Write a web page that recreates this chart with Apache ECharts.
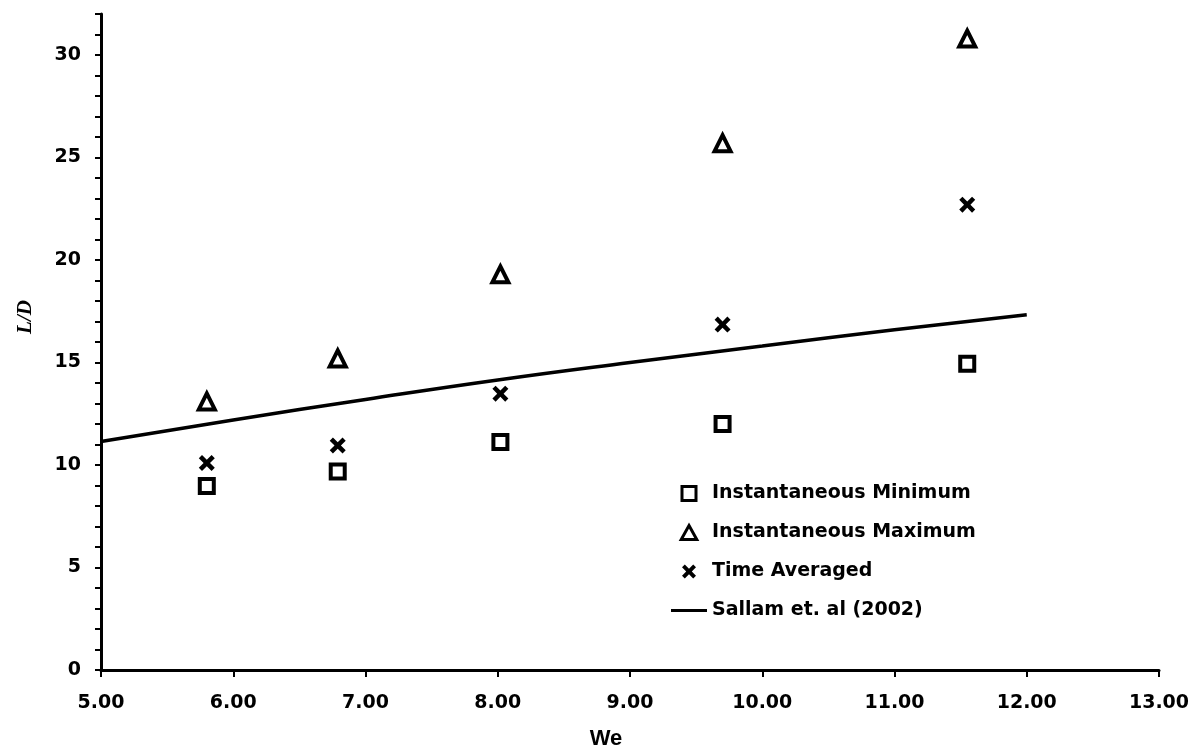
<!DOCTYPE html>
<html>
<head>
<meta charset="utf-8">
<script src="https://cdn.jsdelivr.net/npm/echarts@6/dist/echarts.min.js"></script>
<style>
    html, body { margin: 0; padding: 0; background: #fff; }
    #chart { width: 1195px; height: 749px; }
</style>
</head>
<body>
<div id="chart"></div>
<script>
// values
const weValues = [5.80, 6.79, 8.02, 9.70, 11.55];
const instMin = [8.98, 9.68, 11.12, 12.0, 14.94];
const instMax = [13.1, 15.2, 19.3, 25.7, 30.8];
const timeAvg = [10.1, 10.95, 13.48, 16.85, 22.7];

// Sallam et. al (2002) curve, read at whole We steps
const sallamWe = [5, 6, 7, 8, 9, 10, 11, 12];
const sallamLD = [11.15, 12.2, 13.2, 14.15, 15.0, 15.8, 16.6, 17.33];

const xTicks = { min: 5, max: 13, interval: 1 };
const yTicks = { min: 0, max: 32, interval: 1, labelStep: 5 };

const squarePath = 'path://M0,0L10,0L10,10L0,10Z';
const trianglePath = 'path://M5,0L10,9L0,9Z';
const crossPath = 'path://M0,2L2,0L5,3L8,0L10,2L7,5L10,8L8,10L5,7L2,10L0,8L3,5Z';
const linePath = 'path://M0,0L36,0L36,3L0,3Z';
const labelFont = '"DejaVu Sans", Arial, sans-serif';

function pairs(xs, ys) {
    return xs.map((x, i) => [x, ys[i]]);
}

const hollowIcon = { color: '#fff', borderColor: '#000', borderWidth: 3 };

const chart = echarts.init(document.getElementById('chart'));
chart.setOption({
    animation: false,
    backgroundColor: '#fff',
    grid: {
        left: 101,
        right: 36,
        top: 14,
        bottom: 79,
        outerBoundsMode: 'none'
    },
    legend: {
        orient: 'vertical',
        left: 666,
        top: 479,
        itemWidth: 36,
        itemHeight: 14,
        itemGap: 20,
        textStyle: {
            color: '#000',
            fontWeight: 'bold',
            fontSize: 19,
            fontFamily: labelFont
        },
        data: [
            { name: 'Instantaneous Minimum', icon: squarePath, itemStyle: hollowIcon },
            { name: 'Instantaneous Maximum', icon: trianglePath, itemStyle: hollowIcon },
            { name: 'Time Averaged', icon: crossPath },
            { name: 'Sallam et. al (2002)', icon: linePath }
        ]
    },
    xAxis: {
        type: 'value',
        min: xTicks.min,
        max: xTicks.max,
        interval: xTicks.interval,
        name: 'We',
        nameLocation: 'middle',
        nameGap: 58,
        nameTextStyle: {
            color: '#000',
            fontSize: 22,
            fontWeight: 'bold',
            fontFamily: '"Liberation Sans Narrow", "Liberation Sans", Arial, sans-serif',
            padding: [0, 48, 0, 0]
        },
        axisLine: { lineStyle: { color: '#000', width: 3 } },
        axisTick: { show: true, length: 7, lineStyle: { color: '#000', width: 2 } },
        axisLabel: {
            color: '#000',
            fontSize: 19,
            fontWeight: 'bold',
            fontFamily: labelFont,
            margin: 24,
            formatter: v => v.toFixed(2)
        },
        splitLine: { show: false }
    },
    yAxis: {
        type: 'value',
        min: yTicks.min,
        max: yTicks.max,
        interval: yTicks.interval,
        name: 'L/D',
        nameLocation: 'middle',
        nameGap: 65,
        nameRotate: 90,
        nameTextStyle: {
            color: '#000',
            fontSize: 21,
            fontWeight: 'bold',
            fontStyle: 'italic',
            fontFamily: '"Liberation Serif", "DejaVu Serif", serif',
            padding: [0, 0, 0, 50]
        },
        axisLine: { lineStyle: { color: '#000', width: 3 } },
        axisTick: { show: true, length: 6, lineStyle: { color: '#000', width: 2 } },
        axisLabel: {
            color: '#000',
            fontSize: 19,
            fontWeight: 'bold',
            fontFamily: labelFont,
            margin: 20,
            formatter: v => (v % yTicks.labelStep === 0 ? String(v) : '')
        },
        splitLine: { show: false }
    },
    series: [
        {
            name: 'Instantaneous Minimum',
            type: 'scatter',
            symbol: 'rect',
            symbolSize: 14,
            itemStyle: { color: '#fff', borderColor: '#000', borderWidth: 4, opacity: 1 },
            data: pairs(weValues, instMin)
        },
        {
            name: 'Instantaneous Maximum',
            type: 'scatter',
            symbol: 'triangle',
            symbolSize: 16,
            itemStyle: { color: '#fff', borderColor: '#000', borderWidth: 4, opacity: 1 },
            data: pairs(weValues, instMax)
        },
        {
            name: 'Time Averaged',
            type: 'scatter',
            symbol: crossPath,
            symbolSize: 16,
            itemStyle: { color: '#000', opacity: 1 },
            data: pairs(weValues, timeAvg)
        },
        {
            name: 'Sallam et. al (2002)',
            type: 'line',
            symbol: 'none',
            smooth: true,
            lineStyle: { color: '#000', width: 3.5 },
            itemStyle: { color: '#000' },
            data: pairs(sallamWe, sallamLD)
        }
    ]
});
</script>
</body>
</html>
